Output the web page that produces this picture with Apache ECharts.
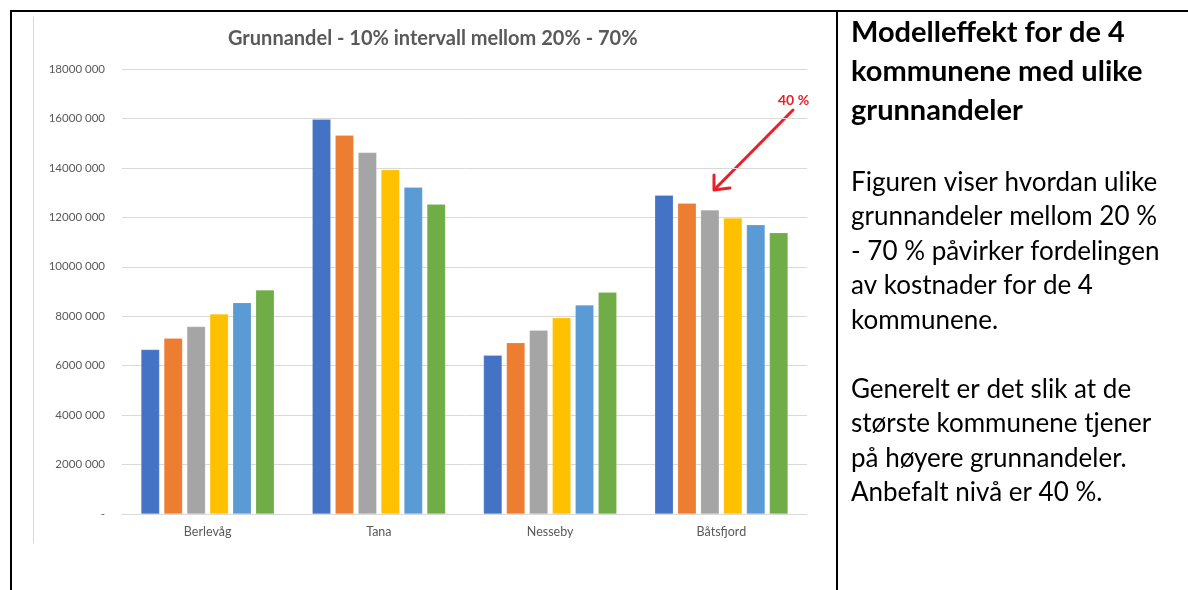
<!DOCTYPE html>
<html>
<head>
<meta charset="utf-8">
<script src="https://cdn.jsdelivr.net/npm/echarts@6/dist/echarts.min.js"></script>
<style>
  html, body { margin: 0; padding: 0; background: #fff; }
  #chart { width: 1188px; height: 590px; }
</style>
</head>
<body>
<div id="chart"></div>
<script>
// ---- data ----
var categories = ['Berlevåg', 'Tana', 'Nesseby', 'Båtsfjord'];
var seriesNames = ['20 %', '30 %', '40 %', '50 %', '60 %', '70 %'];
var s20 = [6650000, 15970000, 6420000, 12890000];
var s30 = [7110000, 15320000, 6930000, 12570000];
var s40 = [7580000, 14620000, 7430000, 12300000];
var s50 = [8090000, 13920000, 7940000, 11970000];
var s60 = [8550000, 13220000, 8450000, 11700000];
var s70 = [9060000, 12530000, 8970000, 11380000];
var yTickLabels = ['-', '2000 000', '4000 000', '6000 000', '8000 000', '10000 000', '12000 000', '14000 000', '16000 000', '18000 000'];
var chartTitle = 'Grunnandel - 10% intervall mellom 20% - 70%';
var annotationLabel = '40 %';
var headingText = 'Modelleffekt for de 4\nkommunene med ulike\ngrunnandeler';
var bodyText = 'Figuren viser hvordan ulike\ngrunnandeler mellom 20 %\n- 70 % påvirker fordelingen\nav kostnader for de 4\nkommunene.\n\nGenerelt er det slik at de\nstørste kommunene tjener\npå høyere grunnandeler.\nAnbefalt nivå er 40 %.';

var colors = ['#4472C4', '#ED7D31', '#A5A5A5', '#FFC000', '#5B9BD5', '#70AD47'];
var allSeries = [s20, s30, s40, s50, s60, s70];

var chart = echarts.init(document.getElementById('chart'), null, { renderer: 'canvas' });

var series = allSeries.map(function (d, i) {
  return {
    name: seriesNames[i],
    type: 'bar',
    data: d,
    barWidth: 18.5,
    barGap: '24%',
    itemStyle: { color: colors[i], borderColor: 'rgba(255,255,255,0.35)', borderWidth: 0.5 },
    emphasis: { disabled: true },
    animation: false
  };
});

var labelFont = 'Lato, "Open Sans", sans-serif';

chart.setOption({
  animation: false,
  backgroundColor: '#ffffff',
  color: colors,
  title: {
    text: chartTitle,
    left: 228,
    top: 29,
    padding: 0,
    textStyle: { color: '#595959', fontSize: 20, fontWeight: 'bold', fontFamily: labelFont }
  },
  grid: { left: 122, right: 381, top: 69, bottom: 76, containLabel: false },
  xAxis: {
    type: 'category',
    data: categories,
    axisLine: { show: true, lineStyle: { color: '#D9D9D9', width: 1 } },
    axisTick: { show: false },
    axisLabel: { color: '#595959', fontSize: 12.5, fontFamily: labelFont, margin: 11 },
    splitLine: { show: false }
  },
  yAxis: {
    type: 'value',
    min: 0,
    max: 18000000,
    interval: 2000000,
    axisLine: { show: false },
    axisTick: { show: false },
    axisLabel: {
      color: '#595959', fontSize: 11.5, fontFamily: labelFont, margin: 17,
      formatter: function (v) { return yTickLabels[Math.round(v / 2000000)]; }
    },
    splitLine: { lineStyle: { color: '#D9D9D9', width: 1 } }
  },
  series: series,
  graphic: [
    // table frame
    { type: 'rect', shape: { x: 10, y: 10, width: 1178, height: 2 }, style: { fill: '#000' }, silent: true },
    { type: 'rect', shape: { x: 10, y: 10, width: 2, height: 580 }, style: { fill: '#000' }, silent: true },
    { type: 'rect', shape: { x: 836, y: 10, width: 2, height: 580 }, style: { fill: '#000' }, silent: true },
    // chart area left edge
    { type: 'line', shape: { x1: 33.5, y1: 17, x2: 33.5, y2: 543 }, style: { stroke: '#D9D9D9', lineWidth: 1 }, silent: true },
    // annotation arrow
    { type: 'line', shape: { x1: 793, y1: 110, x2: 715, y2: 189 }, style: { stroke: '#E8202A', lineWidth: 3, lineCap: 'round' }, silent: true },
    { type: 'polyline', shape: { points: [[714, 175], [714, 190], [730, 188]] }, style: { stroke: '#E8202A', lineWidth: 3, fill: null, lineCap: 'round', lineJoin: 'round' }, silent: true },
    { type: 'text', left: 778, top: 93, style: { text: annotationLabel, fill: '#E8202A', font: 'bold 14px ' + labelFont }, silent: true },
    // side text
    { type: 'text', left: 851, top: 13.5, style: { text: headingText, fill: '#000', font: 'bold 29px ' + labelFont, lineHeight: 39 }, silent: true },
    { type: 'text', left: 851, top: 165, style: { text: bodyText, fill: '#000', font: '26px ' + labelFont, lineHeight: 34.5 }, silent: true }
  ]
});
</script>
</body>
</html>
